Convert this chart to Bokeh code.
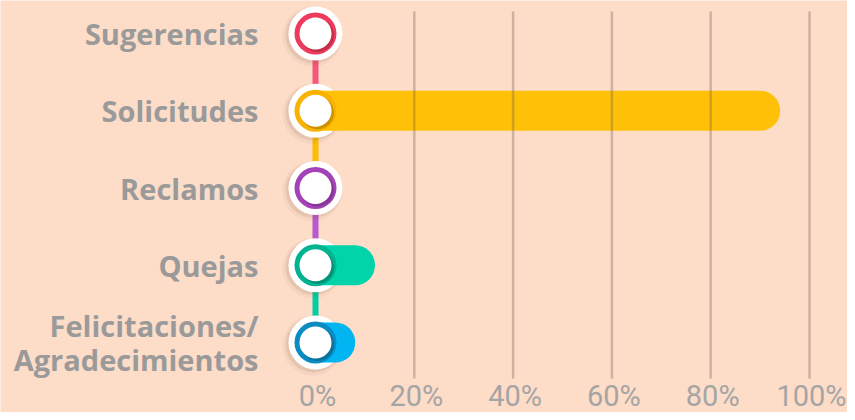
from bokeh.plotting import figure
from bokeh.models import Range1d, ColumnDataSource
from bokeh.transform import dodge
from bokeh.core.properties import value
from bokeh.embed import file_html
from bokeh.resources import INLINE

# ---- data ----
categories = ["Sugerencias", "Solicitudes", "Reclamos", "Quejas", "Felicitaciones/\nAgradecimientos"]
values = [0, 90, 0, 8, 4]
bar_colors = ["#F0405E", "#FFC107", "#A646B8", "#00D4A8", "#00B5F1"]
ring_colors = ["#EE3A5C", "#F9B200", "#A443B7", "#00B491", "#0A8CC2"]
link_colors = ["#F5577A", "#FFBB00", "#B85BCF", "#00CFA3"]
tick_values = [0, 20, 40, 60, 80, 100]
tick_labels = ["0%", "20%", "40%", "60%", "80%", "100%"]

# ---- layout constants (pixels) ----
W, H = 847, 412
BG = "#FDDCC8"
PX_X = 4.94           # pixels per percent
X0_PX = 315           # x of 0%
ROW = 77.25           # pixels per category
FIRST = 33            # y of first category centre
GRID_TOP, GRID_BOTTOM = 11, 378
TICK_Y = 395

def ypx(py):
    return (py - FIRST) / ROW

x_range = Range1d(-X0_PX / PX_X, (W - X0_PX) / PX_X)
y_range = Range1d(ypx(H), ypx(0))

p = figure(width=W, height=H, x_range=x_range, y_range=y_range,
           output_backend="svg", toolbar_location=None,
           x_axis_location=None, y_axis_location=None,
           min_border=0)
p.background_fill_color = BG
p.border_fill_color = BG
p.outline_line_color = None
p.grid.visible = False

idx = list(range(len(categories)))
src = ColumnDataSource(dict(x=[0] * len(idx), y=idx, v=values, bar=bar_colors,
                            ring=ring_colors, label=categories))
links = ColumnDataSource(dict(x=[0] * (len(idx) - 1), y0=idx[:-1], y1=idx[1:], c=link_colors))
grid_src = ColumnDataSource(dict(t=tick_values[1:],
                                 y0=[ypx(GRID_TOP)] * (len(tick_values) - 1),
                                 y1=[ypx(GRID_BOTTOM)] * (len(tick_values) - 1)))
ticks_src = ColumnDataSource(dict(t=tick_values, lab=tick_labels,
                                  y=[ypx(TICK_Y)] * len(tick_values)))

def px_dx(px):
    return px / PX_X

def px_dy(px):
    return px / ROW

# connectors
p.segment(x0="x", y0="y0", x1="x", y1="y1", source=links, line_color="c", line_width=6)

# outer shadow
p.scatter(x=dodge("x", px_dx(-3), range=x_range), y=dodge("y", px_dy(3), range=y_range),
          source=src, size=60, fill_color="#7A5A45", fill_alpha=0.06, line_color=None)
p.scatter(x=dodge("x", px_dx(-2), range=x_range), y=dodge("y", px_dy(2), range=y_range),
          source=src, size=56, fill_color="#7A5A45", fill_alpha=0.12, line_color=None)
# outer white
p.scatter(x="x", y="y", source=src, size=54, fill_color="white", line_color=None)

# bars
p.segment(x0="x", y0="y", x1="v", y1="y", source=src, line_color="bar",
          line_width=40, line_cap="round")

# ring
p.scatter(x="x", y="y", source=src, size=42, fill_color="ring", line_color=None)
# inner shadow
p.scatter(x=dodge("x", px_dx(2), range=x_range), y=dodge("y", px_dy(2), range=y_range),
          source=src, size=33, fill_color="black", fill_alpha=0.18, line_color=None)
# inner white
p.scatter(x="x", y="y", source=src, size=32, fill_color="white", line_color=None)

# vertical grid lines (drawn over the bars)
p.segment(x0="t", y0="y0", x1="t", y1="y1", source=grid_src,
          line_color="#6E5A4E", line_alpha=0.32, line_width=2.5)

# category labels
p.text(x="x", y="y", text="label", source=src, x_offset=-57,
       text_align="right", text_baseline="middle",
       text_font=value("Open Sans"), text_font_style="bold", text_font_size="29px",
       text_color="#9A9A9A", text_line_height=0.85)

# tick labels
p.text(x="t", y="y", text="lab", source=ticks_src, x_offset=2,
       text_align="center", text_baseline="middle",
       text_font=value("Roboto"), text_font_size="29px", text_color="#A5A5A5")

open("out.html", "w").write(file_html(p, INLINE))
